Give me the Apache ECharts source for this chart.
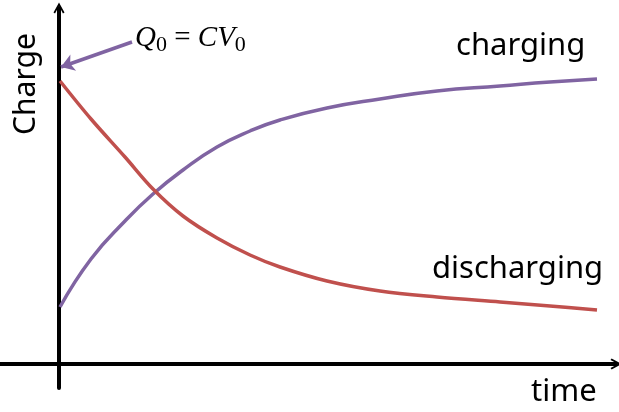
<!DOCTYPE html>
<html>
<head>
<meta charset="utf-8">
<script src="https://cdn.jsdelivr.net/npm/echarts@6/dist/echarts.min.js"></script>
<style>
  html, body { margin: 0; padding: 0; background: #fff; }
  #chart { width: 619px; height: 412px; }
</style>
</head>
<body>
<div id="chart"></div>
<script>
  // time positions (arbitrary units along the time axis)
  var times = [1, 32, 66, 94, 124, 158, 191, 221, 268, 321, 378, 441, 491, 538]
  // charge while charging
  var charging = [57, 105, 143, 170, 194, 217, 233, 244, 256, 265, 273, 278, 282, 285]
  // charge while discharging
  var discharging = [283, 245, 207, 175, 148, 126, 109, 97, 83, 73, 67, 62, 58, 54]
  // Q0 arrow: from label to the start of discharge curve
  var q0Arrow = [[73, 322], [2, 297]]

  var purple = '#8064A2'
  var red = '#C0504D'
  var chevron = 'path://M0,9 L5,0 L10,9 L8.6,10 L5,3.2 L1.4,10 Z'

  var chart = echarts.init(document.getElementById('chart'))
  chart.setOption({
    animation: false,
    grid: { left: 0, right: 3, top: 8, bottom: 24 },
    xAxis: {
      type: 'value',
      min: -59,
      max: 557,
      splitLine: { show: false },
      axisTick: { show: false },
      axisLabel: { show: false },
      axisLine: {
        onZero: true,
        symbol: ['none', chevron],
        symbolSize: [17, 11],
        lineStyle: { color: '#000', width: 4 }
      }
    },
    yAxis: {
      type: 'value',
      min: -24,
      max: 356,
      splitLine: { show: false },
      axisTick: { show: false },
      axisLabel: { show: false },
      axisLine: {
        onZero: true,
        symbol: ['none', chevron],
        symbolSize: [17, 11],
        lineStyle: { color: '#000', width: 4 }
      }
    },
    series: [
      {
        name: 'charging',
        type: 'line',
        smooth: true,
        showSymbol: false,
        data: times.map(function (t, i) { return [t, charging[i]] }),
        lineStyle: { color: purple, width: 3.5 },
        markLine: {
          silent: true,
          symbol: ['none', 'arrow'],
          symbolSize: 13,
          label: { show: false },
          lineStyle: { color: purple, width: 3.5, type: 'solid' },
          data: [[{ coord: q0Arrow[0] }, { coord: q0Arrow[1] }]]
        }
      },
      {
        name: 'discharging',
        type: 'line',
        smooth: 0.35,
        showSymbol: false,
        data: times.map(function (t, i) { return [t, discharging[i]] }),
        lineStyle: { color: red, width: 3.5 }
      }
    ],
    graphic: [
      {
        type: 'text', x: 26, y: 84, rotation: Math.PI / 2,
        style: { text: 'Charge', font: '30px "Noto Sans"', fill: '#000', align: 'center', verticalAlign: 'middle' }
      },
      {
        type: 'text', x: 456, y: 46,
        style: { text: 'charging', font: '31px "Noto Sans"', fill: '#000', align: 'left', verticalAlign: 'middle' }
      },
      {
        type: 'text', x: 432, y: 269,
        style: { text: 'discharging', font: '31px "Noto Sans"', fill: '#000', align: 'left', verticalAlign: 'middle' }
      },
      {
        type: 'text', x: 531, y: 392,
        style: { text: 'time', font: '31px "Noto Sans"', fill: '#000', align: 'left', verticalAlign: 'middle' }
      },
      {
        type: 'text', x: 135, y: 38,
        style: {
          text: '{i|Q}{s|0}{n| = }{i|CV}{s|0}',
          fill: '#000',
          verticalAlign: 'middle',
          rich: {
            i: { font: 'italic 29px "Liberation Serif"', verticalAlign: 'middle', lineHeight: 36 },
            n: { font: '29px "Liberation Serif"', verticalAlign: 'middle', lineHeight: 36 },
            s: { font: '22px "Liberation Serif"', verticalAlign: 'bottom', lineHeight: 22 }
          }
        }
      }
    ]
  })
</script>
</body>
</html>
